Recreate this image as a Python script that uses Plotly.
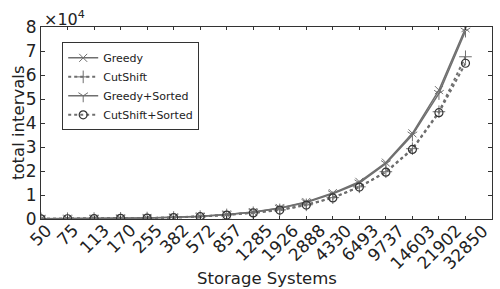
import plotly.graph_objects as go

categories = ["50", "75", "113", "170", "255", "382", "572", "857", "1285", "1926",
              "2888", "4330", "6493", "9737", "14603", "21902", "32850"]

greedy = [80, 130, 200, 300, 450, 700, 1100, 1900, 2900, 4600, 7100, 10800, 15500,
          23500, 35700, 53700, 79500]
cutshift = [70, 115, 180, 270, 400, 620, 1000, 1700, 2600, 3800, 5900, 8900, 13400,
            19700, 29300, 44700, 67600]
greedy_sorted = [80, 128, 195, 295, 440, 690, 1080, 1850, 2850, 4500, 6900, 10500, 15000,
                 23000, 35000, 52300, 78300]
cutshift_sorted = [70, 112, 175, 265, 395, 610, 980, 1650, 2550, 3700, 5800, 8800, 13300,
                   19500, 29000, 44300, 64900]

ytick_vals = [0, 10000, 20000, 30000, 40000, 50000, 60000, 70000, 80000]
ytick_text = ["0", "1", "2", "3", "4", "5", "6", "7", "8"]

xs = list(range(len(categories)))
gray = "#6f6f6f"

fig = go.Figure()
fig.add_trace(go.Scatter(x=xs, y=greedy, name="Greedy", mode="lines+markers",
                         line=dict(color=gray, width=1.5),
                         marker=dict(symbol="x-thin-open", size=8, color=gray,
                                     line=dict(width=1, color=gray))))
fig.add_trace(go.Scatter(x=xs, y=cutshift, name="CutShift", mode="lines+markers",
                         line=dict(color=gray, width=2, dash="3px,3px"),
                         marker=dict(symbol="cross-thin-open", size=9, color=gray,
                                     line=dict(width=1, color=gray))))
fig.add_trace(go.Scatter(x=xs, y=greedy_sorted, name="Greedy+Sorted", mode="lines+markers",
                         line=dict(color=gray, width=1.5),
                         marker=dict(symbol="y-down-open", size=8, color=gray,
                                     line=dict(width=1, color=gray))))
fig.add_trace(go.Scatter(x=xs, y=cutshift_sorted, name="CutShift+Sorted", mode="lines+markers",
                         line=dict(color=gray, width=2, dash="3px,3px"),
                         marker=dict(symbol="circle-open", size=8, color="#333333",
                                     line=dict(width=1.2, color="#333333"))))

annotations = []
for i, c in enumerate(categories):
    annotations.append(dict(x=i, y=0, xref="x", yref="paper", text=c, showarrow=False,
                            textangle=-45, xanchor="center", yanchor="top", yshift=0,
                            borderpad=0,
                            font=dict(size=17, color="#222", family="DejaVu Sans")))
annotations.append(dict(x=0, y=1, xref="paper", yref="paper", xanchor="left", yanchor="bottom",
                        text="×10<sup>4</sup>", showarrow=False, xshift=1, yshift=-4,
                        font=dict(size=16, color="#222", family="DejaVu Sans")))
annotations.append(dict(x=0.5, y=0, xref="paper", yref="paper", xanchor="center", yanchor="middle",
                        text="Storage Systems", showarrow=False, xshift=0, yshift=-59,
                        font=dict(size=16.5, color="#222", family="DejaVu Sans")))
annotations.append(dict(x=0, y=0.5, xref="paper", yref="paper", xanchor="center", yanchor="middle",
                        text="total intervals", showarrow=False, xshift=-23, textangle=-90,
                        font=dict(size=16.5, color="#222", family="DejaVu Sans")))

fig.update_layout(
    width=500, height=289,
    margin=dict(l=41, r=8, t=27, b=70),
    paper_bgcolor="white", plot_bgcolor="white",
    font=dict(family="DejaVu Sans", color="#222"),
    showlegend=True,
    legend=dict(x=0.047, y=0.92, xanchor="left", yanchor="top",
                bgcolor="white", bordercolor="#333", borderwidth=1,
                font=dict(size=11, color="#222"), itemwidth=30, tracegroupgap=0),
    annotations=annotations,
    xaxis=dict(range=[0, 17], tickvals=xs, showticklabels=False, ticks="inside",
               ticklen=3, tickcolor="#333", showgrid=False, zeroline=False,
               showline=True, linecolor="#333", linewidth=1, mirror="ticks",
               automargin=False),
    yaxis=dict(range=[0, 80000], tickvals=ytick_vals, ticktext=ytick_text, ticks="inside",
               ticklen=4, tickcolor="#333", showgrid=False, zeroline=False,
               showline=True, linecolor="#333", linewidth=1, mirror="ticks",
               tickfont=dict(size=17), ticklabelstandoff=0, automargin=False),
)
fig.write_html("out.html", config={"displayModeBar": False},
               post_script="document.body.style.margin='0';document.body.style.overflow='hidden';")
